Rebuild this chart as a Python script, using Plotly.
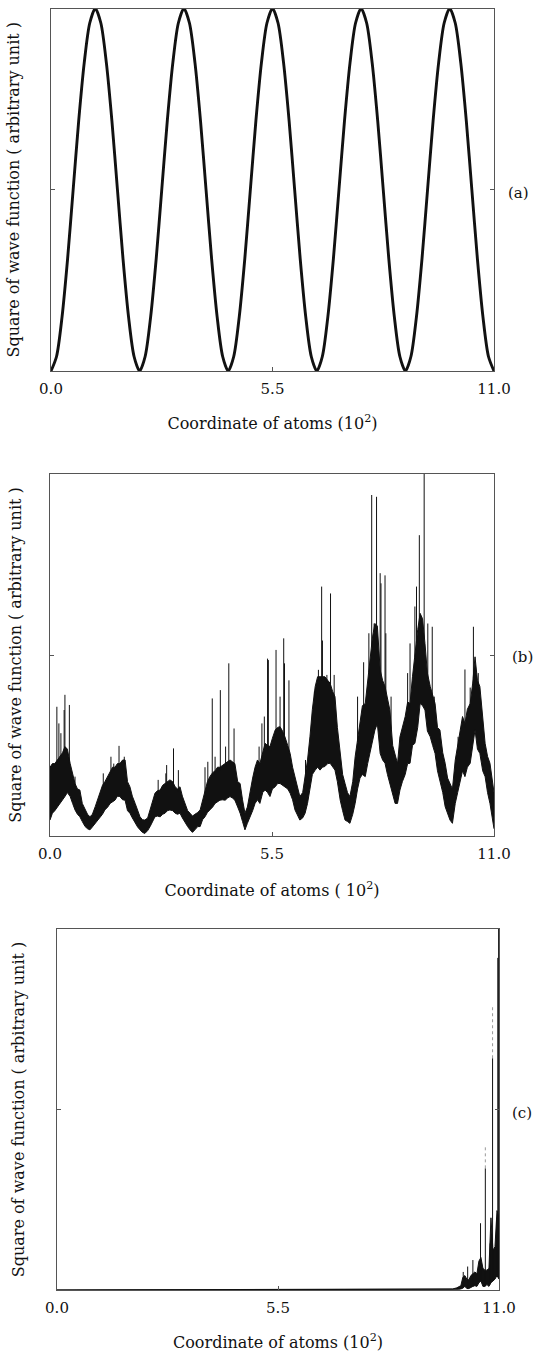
import numpy as np
import plotly.graph_objects as go

# ---------------- data ----------------
tick_vals = [0.0, 5.5, 11.0]
tick_text = ["0.0", "5.5", "11.0"]

# panel (a): square of an extended wave function
a_x = [0.0, 0.1375, 0.275, 0.4125, 0.55, 0.6875, 0.825, 0.9625, 1.1, 1.2375,
       1.375, 1.5125, 1.65, 1.7875, 1.925, 2.0625, 2.2, 2.3375, 2.475, 2.6125,
       2.75, 2.8875, 3.025, 3.1625, 3.3, 3.4375, 3.575, 3.7125, 3.85, 3.9875,
       4.125, 4.2625, 4.4, 4.5375, 4.675, 4.8125, 4.95, 5.0875, 5.225, 5.3625,
       5.5, 5.6375, 5.775, 5.9125, 6.05, 6.1875, 6.325, 6.4625, 6.6, 6.7375,
       6.875, 7.0125, 7.15, 7.2875, 7.425, 7.5625, 7.7, 7.8375, 7.975, 8.1125,
       8.25, 8.3875, 8.525, 8.6625, 8.8, 8.9375, 9.075, 9.2125, 9.35, 9.4875,
       9.625, 9.7625, 9.9, 10.0375, 10.175, 10.3125, 10.45, 10.5875, 10.725, 10.8625,
       11.0]
a_y = [0, .04, .15, .31, .5, .69, .85, .96, 1, .96,
       .85, .69, .5, .31, .15, .04, 0, .04, .15, .31,
       .5, .69, .85, .96, 1, .96, .85, .69, .5, .31,
       .15, .04, 0, .04, .15, .31, .5, .69, .85, .96,
       1, .96, .85, .69, .5, .31, .15, .04, 0, .04,
       .15, .31, .5, .69, .85, .96, 1, .96, .85, .69,
       .5, .31, .15, .04, 0, .04, .15, .31, .5, .69,
       .85, .96, 1, .96, .85, .69, .5, .31, .15, .04,
       0]

# panel (b): dense noisy band (lower / upper edge) plus isolated spikes
b_x = [0.00, 0.06, 0.12, 0.19, 0.25, 0.31, 0.37, 0.43, 0.50, 0.56,
       0.62, 0.68, 0.74, 0.80, 0.87, 0.93, 0.99, 1.05, 1.12, 1.18,
       1.24, 1.30, 1.36, 1.43, 1.49, 1.55, 1.61, 1.67, 1.73, 1.80,
       1.86, 1.92, 1.98, 2.04, 2.11, 2.17, 2.23, 2.29, 2.35, 2.42,
       2.48, 2.54, 2.60, 2.66, 2.73, 2.79, 2.85, 2.91, 2.97, 3.04,
       3.10, 3.16, 3.22, 3.28, 3.35, 3.41, 3.47, 3.53, 3.59, 3.66,
       3.72, 3.78, 3.84, 3.90, 3.96, 4.03, 4.09, 4.15, 4.21, 4.27,
       4.34, 4.40, 4.46, 4.52, 4.58, 4.65, 4.71, 4.77, 4.83, 4.89,
       4.96, 5.02, 5.08, 5.14, 5.20, 5.27, 5.33, 5.39, 5.45, 5.51,
       5.58, 5.64, 5.70, 5.76, 5.82, 5.89, 5.95, 6.01, 6.07, 6.13,
       6.19, 6.26, 6.32, 6.38, 6.44, 6.50, 6.57, 6.63, 6.69, 6.75,
       6.81, 6.88, 6.94, 7.00, 7.06, 7.12, 7.19, 7.25, 7.31, 7.37,
       7.43, 7.50, 7.56, 7.62, 7.68, 7.74, 7.81, 7.87, 7.93, 7.99,
       8.05, 8.11, 8.18, 8.24, 8.30, 8.36, 8.42, 8.49, 8.55, 8.61,
       8.67, 8.73, 8.80, 8.86, 8.92, 8.98, 9.04, 9.11, 9.17, 9.23,
       9.29, 9.35, 9.42, 9.48, 9.54, 9.60, 9.66, 9.73, 9.79, 9.85,
       9.91, 9.97, 10.04, 10.10, 10.16, 10.22, 10.28, 10.34, 10.41, 10.47,
       10.53, 10.59, 10.65, 10.72, 10.78, 10.84, 10.90, 11.00]
b_lo = [.044, .063, .07, .08, .09, .10, .109, .12, .109, .09,
        .072, .06, .053, .04, .026, .02, .017, .025, .035, .045,
        .053, .06, .072, .08, .09, .095, .099, .11, .109, .10,
        .099, .07, .063, .05, .035, .025, .017, .01, .007, .015,
        .026, .04, .053, .055, .053, .06, .063, .07, .072, .07,
        .063, .06, .063, .05, .035, .026, .017, .01, .017, .026,
        .026, .045, .053, .065, .072, .08, .09, .095, .099, .10,
        .099, .105, .109, .105, .099, .08, .063, .04, .017, .035,
        .053, .07, .09, .10, .09, .12, .127, .12, .109, .13,
        .136, .145, .145, .14, .136, .13, .118, .10, .072, .06,
        .044, .05, .063, .09, .136, .17, .182, .19, .182, .19,
        .192, .20, .201, .19, .182, .15, .099, .07, .044, .04,
        .035, .06, .09, .13, .16, .17, .164, .20, .228, .26,
        .293, .31, .228, .21, .201, .17, .145, .11, .09, .09,
        .127, .15, .17, .20, .201, .25, .256, .30, .366, .36,
        .348, .29, .274, .25, .228, .18, .155, .12, .081, .06,
        .044, .035, .09, .12, .15, .18, .164, .19, .201, .25,
        .293, .24, .228, .18, .164, .12, .09, .02]
b_hi = [.19, .20, .20, .21, .22, .23, .247, .24, .20, .17,
        .145, .13, .127, .09, .072, .06, .053, .06, .081, .10,
        .118, .14, .15, .165, .18, .19, .19, .20, .20, .21,
        .21, .15, .136, .11, .09, .07, .053, .045, .044, .05,
        .072, .09, .118, .125, .127, .14, .145, .15, .155, .15,
        .136, .13, .136, .11, .09, .07, .063, .055, .06, .065,
        .072, .10, .127, .15, .164, .175, .18, .19, .19, .195,
        .20, .205, .21, .205, .20, .15, .145, .10, .063, .08,
        .127, .16, .19, .21, .20, .23, .256, .25, .247, .27,
        .293, .30, .302, .29, .274, .25, .228, .19, .164, .13,
        .109, .12, .164, .21, .274, .35, .413, .44, .44, .44,
        .44, .43, .422, .40, .385, .30, .219, .17, .145, .12,
        .109, .15, .219, .27, .32, .36, .366, .43, .495, .55,
        .587, .58, .459, .43, .413, .38, .348, .25, .228, .20,
        .274, .30, .33, .37, .366, .44, .505, .57, .615, .60,
        .532, .45, .413, .39, .366, .30, .293, .23, .201, .16,
        .145, .13, .21, .25, .29, .33, .311, .35, .366, .42,
        .495, .43, .413, .33, .256, .22, .201, .12]
bs_x = [0.17, 0.22, 0.27, 0.35, 0.37, 0.48, 0.62, 1.32, 1.51, 1.58,
        1.71, 1.84, 2.68, 2.87, 2.89, 3.06, 3.18, 3.84, 3.91, 4.02,
        4.09, 4.22, 4.35, 4.43, 4.56, 4.71, 5.18, 5.25, 5.31, 5.39,
        5.41, 5.60, 5.70, 5.79, 5.81, 5.92, 6.33, 6.55, 6.65, 6.73,
        6.75, 6.86, 6.95, 7.04, 7.62, 7.77, 7.90, 7.97, 8.03, 8.09,
        8.18, 8.20, 8.30, 8.32, 8.45, 8.71, 8.86, 8.92, 9.04, 9.08,
        9.15, 9.21, 9.27, 9.36, 9.42, 9.47, 9.52, 10.11, 10.28, 10.41,
        10.49, 10.61]
bs_top = [0.357, 0.311, 0.284, 0.348, 0.39, 0.362, 0.164, 0.173, 0.219, 0.20,
          0.249, 0.219, 0.155, 0.173, 0.196, 0.242, 0.182, 0.19, 0.205, 0.38,
          0.219, 0.403, 0.247, 0.477, 0.297, 0.136, 0.247, 0.311, 0.33, 0.49,
          0.486, 0.514, 0.385, 0.546, 0.477, 0.43, 0.21, 0.399, 0.459, 0.689,
          0.54, 0.445, 0.67, 0.445, 0.385, 0.48, 0.56, 0.942, 0.587, 0.937,
          0.726, 0.698, 0.72, 0.56, 0.385, 0.265, 0.45, 0.532, 0.634, 0.689,
          0.831, 0.523, 1.0, 0.587, 0.403, 0.578, 0.385, 0.274, 0.46, 0.41,
          0.578, 0.45]

# panel (c): localized state near the right end
c_x = [0.0, 9.80, 9.85, 9.95, 10.0, 10.05, 10.1, 10.15, 10.2, 10.25,
       10.3, 10.35, 10.4, 10.45, 10.5, 10.55, 10.6, 10.65, 10.7, 10.75,
       10.8, 10.85, 10.9, 10.95, 11.0]
c_lo = [0, 0, 0, 0, .002, .003, .005, .01, .004, .004,
        .008, .01, .012, .01, .02, .025, .01, .01, .015, .01,
        .02, .025, .03, .04, .03]
c_hi = [0, .002, .003, .006, .01, .012, .035, .04, .03, .028,
        .04, .045, .05, .045, .08, .09, .06, .055, .055, .06,
        .2, .11, .12, .22, .2]
cs_x = [10.11, 10.22, 10.35, 10.54, 10.66, 10.78, 10.84, 10.94, 10.97, 10.99]
cs_top = [0.05, 0.065, 0.083, 0.185, 0.337, 0.129, 0.642, 0.2, 0.92, 1.0]
# faint (grey, dotted) continuations of two spikes
cf_x = [10.66, 10.84]
cf_bottom = [0.337, 0.642]
cf_top = [0.40, 0.79]

# ---------------- layout helpers ----------------
W, H = 535, 1354
FONT = "DejaVu Serif"
INK = "#111111"
AXC = "#555555"

# plot areas in pixels: left, right, top, bottom
boxes = [(51, 494, 8.5, 371), (50, 494, 474, 836), (57, 499, 929, 1290)]
x_titles = ["Coordinate of atoms (10<sup>2</sup>)", "Coordinate of atoms ( 10<sup>2</sup>)",
            "Coordinate of atoms (10<sup>2</sup>)"]
y_title = "Square of wave function ( arbitrary unit )"
tags = ["(a)", "(b)", "(c)"]
tag_pos = [(518, 193), (522, 657), (522, 1113)]
y_standoff = [26, 23, 27]
x_standoff = [20, 22, 20]


def spikes(xs, bases, tops):
    sx, sy = [], []
    for x, b0, t in zip(xs, bases, tops):
        sx += [x, x, None]
        sy += [b0, t, None]
    return sx, sy


fig = go.Figure()

# (a)
fig.add_trace(go.Scatter(x=a_x, y=a_y, mode="lines",
                         line=dict(color=INK, width=2.9, shape="spline", smoothing=0.8),
                         xaxis="x", yaxis="y", hoverinfo="skip"))
# (b)
fig.add_trace(go.Scatter(x=b_x, y=b_lo, mode="lines", line=dict(color=INK, width=1),
                         xaxis="x2", yaxis="y2", hoverinfo="skip"))
fig.add_trace(go.Scatter(x=b_x, y=b_hi, mode="lines", line=dict(color=INK, width=1),
                         fill="tonexty", fillcolor=INK, xaxis="x2", yaxis="y2", hoverinfo="skip"))
sx, sy = spikes(bs_x, np.interp(bs_x, b_x, b_hi) - 0.01, bs_top)
fig.add_trace(go.Scatter(x=sx, y=sy, mode="lines", line=dict(color=INK, width=1),
                         xaxis="x2", yaxis="y2", hoverinfo="skip"))
# (c)
fig.add_trace(go.Scatter(x=c_x, y=c_lo, mode="lines", line=dict(color=INK, width=1),
                         xaxis="x3", yaxis="y3", hoverinfo="skip"))
fig.add_trace(go.Scatter(x=c_x, y=c_hi, mode="lines", line=dict(color=INK, width=1),
                         fill="tonexty", fillcolor=INK, xaxis="x3", yaxis="y3", hoverinfo="skip"))
sx, sy = spikes(cs_x, np.interp(cs_x, c_x, c_lo), cs_top)
fig.add_trace(go.Scatter(x=sx, y=sy, mode="lines", line=dict(color=INK, width=1),
                         xaxis="x3", yaxis="y3", hoverinfo="skip"))
sx, sy = spikes(cf_x, cf_bottom, cf_top)
fig.add_trace(go.Scatter(x=sx, y=sy, mode="lines", line=dict(color="#999999", width=1, dash="dot"),
                         xaxis="x3", yaxis="y3", hoverinfo="skip"))

layout = dict(width=W, height=H, autosize=False, showlegend=False,
              margin=dict(l=0, r=0, t=0, b=0, pad=0),
              paper_bgcolor="white", plot_bgcolor="white",
              font=dict(family=FONT, color=INK))

for i, (l, r, t, b) in enumerate(boxes):
    sfx = "" if i == 0 else str(i + 1)
    layout["xaxis" + sfx] = dict(
        domain=[l / W, r / W], range=[0, 11], anchor="y" + sfx,
        tickvals=tick_vals, ticktext=tick_text, ticks="inside", ticklen=4,
        tickcolor=AXC, showline=True, linecolor=AXC, linewidth=1, mirror=True,
        showgrid=False, zeroline=False, ticklabelstandoff=4, automargin=False,
        tickfont=dict(family=FONT, size=15, color=INK),
        title=dict(text=x_titles[i], standoff=x_standoff[i], font=dict(family=FONT, size=16, color=INK)))
    layout["yaxis" + sfx] = dict(
        domain=[1 - b / H, 1 - t / H], range=[0, 1], anchor="x" + sfx,
        tickvals=[0.5], ticks="inside", ticklen=4, tickcolor=AXC,
        showticklabels=False, showline=True, linecolor=AXC, linewidth=1,
        mirror="ticks", showgrid=False, zeroline=False, automargin=False,
        title=dict(text=y_title, standoff=y_standoff[i], font=dict(family=FONT, size=16, color=INK)))

fig.update_layout(**layout)

ann = []
for i in range(3):
    ann.append(dict(text=tags[i], x=tag_pos[i][0] / W, y=1 - tag_pos[i][1] / H, xref="paper", yref="paper",
                    xanchor="center", yanchor="middle", showarrow=False,
                    font=dict(family=FONT, size=15, color=INK)))
fig.update_layout(annotations=ann)

fig.write_html("out.html")
